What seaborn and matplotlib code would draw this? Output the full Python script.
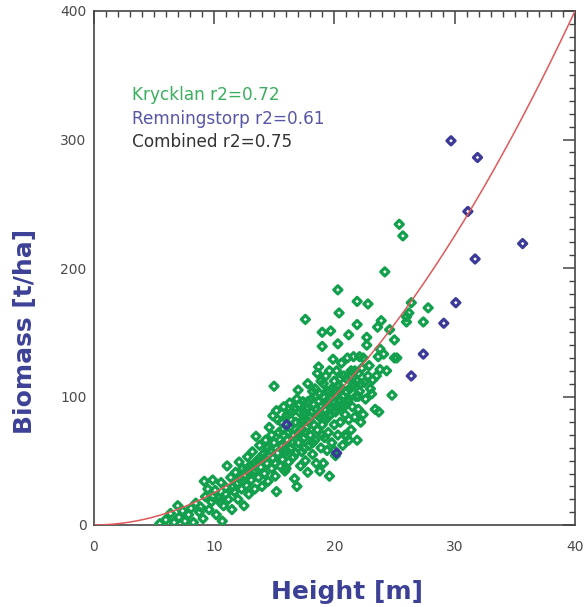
import numpy as np
import pandas as pd
import matplotlib
matplotlib.use("Agg")
import matplotlib.pyplot as plt
from matplotlib.ticker import MultipleLocator
import seaborn as sns

# ---- data ----
kry_height = [5.5, 6.0, 6.4, 6.7, 7.0, 7.1, 7.4, 7.6, 7.9, 8.1, 8.3, 8.5, 8.8, 8.9, 9.1, 9.2, 9.3, 9.5, 9.6, 9.8,
              9.9, 10.1, 10.2, 10.4, 10.6, 10.7, 10.8, 11.0, 11.1, 11.2, 11.4, 11.5, 11.7, 11.8, 11.9,
              12.0, 12.1, 12.2, 12.3, 12.4, 12.5, 12.6, 12.7, 12.8, 12.9, 13.0, 13.1, 13.2, 13.3, 13.4, 13.5,
              13.6, 13.7, 13.8, 13.9, 14.0, 14.1, 14.2, 14.3, 14.4, 14.5, 14.6, 14.7, 14.8, 14.9, 14.9,
              15.0, 15.0, 15.1, 15.2, 15.2, 15.3, 15.4, 15.5, 15.6, 15.6, 15.7, 15.8, 15.8, 15.9, 16.0, 16.0,
              16.1, 16.2, 16.3, 16.3, 16.4, 16.5, 16.6, 16.6, 16.7, 16.8, 16.9, 16.9,
              17.0, 17.0, 17.1, 17.2, 17.2, 17.3, 17.4, 17.4, 17.5, 17.6, 17.6, 17.7, 17.7, 17.8, 17.8, 17.9,
              18.0, 18.0, 18.1, 18.2, 18.2, 18.3, 18.4, 18.4, 18.5, 18.5, 18.6, 18.6, 18.7, 18.7, 18.8, 18.8,
              18.9, 18.9,
              19.0, 19.0, 19.0, 19.1, 19.1, 19.2, 19.2, 19.3, 19.3, 19.4, 19.4, 19.5, 19.5, 19.6, 19.6, 19.7,
              19.7, 19.8, 19.8, 19.9, 19.9, 20.0, 20.0, 20.1, 20.1, 20.2, 20.2, 20.3, 20.3, 20.3, 20.4, 20.4,
              20.5, 20.5, 20.6, 20.7, 20.7, 20.8, 20.9, 20.9,
              21.0, 21.0, 21.1, 21.1, 21.2, 21.2, 21.3, 21.4, 21.4, 21.5, 21.6, 21.6, 21.7, 21.8, 21.9, 21.9,
              21.9, 22.0, 22.0, 22.1, 22.1, 22.2, 22.3, 22.4, 22.4, 22.5, 22.6, 22.7, 22.7, 22.8, 22.8, 22.9,
              23.0,
              23.1, 23.2, 23.4, 23.5, 23.6, 23.65, 23.7, 23.8, 23.8, 23.9, 24.1, 24.2, 24.35, 24.6, 24.8, 25.0,
              25.0, 25.2, 25.4, 25.7, 26.0, 26.0, 26.2, 26.4, 27.4, 27.8,
              14.2, 14.5, 14.8, 15.1, 15.3, 15.5, 15.7, 15.9, 16.1, 16.2, 16.4, 16.5, 16.7, 16.8, 17.0, 17.1,
              17.3, 17.5, 17.6, 17.8, 17.9, 18.1, 18.3, 18.4, 18.6, 18.8, 18.9, 19.1, 19.2, 19.4, 19.6, 19.7,
              19.9, 20.0, 20.2, 20.4, 20.5, 20.6, 20.8, 21.0, 21.2, 21.3, 21.5, 21.7, 21.9, 22.0, 22.2, 13.0,
              13.4, 13.8, 12.4, 12.8, 11.6, 11.0, 10.5, 9.9, 16.0, 17.5, 18.2, 19.0, 20.0, 21.2]
kry_biomass = [1, 4, 9, 2, 15, 6, 11, 3, 8, 13, 2, 17, 10, 14, 5, 34, 22, 28, 12, 18,
               35, 27, 8, 21, 33, 3, 15, 29, 46, 20, 37, 12, 26, 41, 32,
               20, 49, 36, 28, 44, 15, 39, 31, 53, 24, 46, 35, 57, 41, 28, 69,
               50, 37, 62, 45, 30, 55, 40, 66, 48, 34, 76, 58, 44, 85, 52,
               108, 64, 38, 89, 26, 56, 72, 46, 80, 62, 51, 92, 70, 42, 58, 84,
               66, 49, 76, 95, 60, 88, 53, 70, 36, 80, 30, 98,
               105, 64, 88, 46, 74, 57, 96, 82, 68, 160, 50, 90, 76, 41, 110, 62,
               84, 70, 98, 55, 104, 78, 106, 66, 90, 48, 118, 74, 123, 96, 84, 42,
               60, 112,
               150, 139, 78, 100, 48, 90, 68, 116, 82, 104, 58, 94, 72, 38, 120, 151,
               86, 106, 64, 129, 96, 78, 112, 88, 54, 120, 100, 141, 183, 70, 165, 108,
               92, 80, 126, 100, 62, 116, 86, 70,
               69, 114, 96, 130, 148, 82, 106, 120, 74, 92, 131, 110, 84, 100, 156, 174,
               66, 118, 90, 131, 104, 80, 122, 130, 86, 111, 98, 146, 140, 172, 116, 124,
               106,
               102, 113, 90, 116, 154, 131, 88, 121, 137, 159, 133, 197, 120, 152, 101, 144,
               130, 130, 234, 225, 162, 158, 165, 173, 158, 169,
               52, 60, 70, 48, 82, 66, 74, 56, 86, 72, 82, 64, 90, 56, 72, 94,
               80, 88, 72, 96, 80, 88, 94, 100, 86, 102, 92, 110, 84, 96, 104, 98,
               88, 104, 92, 98, 114, 106, 92, 104, 98, 116, 108, 120, 112, 100, 110, 40,
               48, 52, 34, 44, 30, 24, 18, 22, 44, 60, 64, 70, 58, 66]

rem_height = [16.05, 20.2, 26.4, 27.4, 29.1, 30.1, 29.7, 31.9, 31.1, 35.65, 31.7]
rem_biomass = [78, 56, 116, 133, 157, 173, 299, 286, 244, 219, 207]

# combined power-law fit: biomass = a * height ** b
fit_a = 0.25
fit_b = 2.0
fit_height = np.linspace(0, 40, 200)
fit_biomass = fit_a * fit_height ** fit_b

x_ticks = [0, 10, 20, 30, 40]
y_ticks = [0, 100, 200, 300, 400]
legend_lines = ["Krycklan r2=0.72", "Remningstorp r2=0.61", "Combined r2=0.75"]

# ---- plotting ----
sns.set_theme(style="white")
plt.rcParams['font.family'] = ['DejaVu Sans']

GREEN = "#12a04c"
BLUE = "#3b3a98"
RED = "#e2585a"

fig = plt.figure(figsize=(5.87, 6.07), dpi=100)
ax = fig.add_axes([93.5 / 587, (607 - 525) / 607, (575 - 93.5) / 587, (525 - 11) / 607])

kry = pd.DataFrame({"Height": kry_height, "Biomass": kry_biomass})
rem = pd.DataFrame({"Height": rem_height, "Biomass": rem_biomass})
fit = pd.DataFrame({"Height": fit_height, "Biomass": fit_biomass})

sns.scatterplot(data=kry, x="Height", y="Biomass", ax=ax, marker="D", s=17,
                facecolor="none", edgecolor=GREEN, linewidth=2.3, zorder=3)
sns.scatterplot(data=rem, x="Height", y="Biomass", ax=ax, marker="D", s=17,
                facecolor="none", edgecolor=BLUE, linewidth=2.3, zorder=4)
sns.lineplot(data=fit, x="Height", y="Biomass", ax=ax, color=RED, linewidth=1.1, zorder=5)

ax.set_xlim(0, 40)
ax.set_ylim(0, 400)
ax.set_xticks(x_ticks)
ax.set_yticks(y_ticks)
ax.set_xticklabels([str(t) for t in x_ticks])
ax.set_yticklabels([str(t) for t in y_ticks])
ax.xaxis.set_minor_locator(MultipleLocator(1))
ax.yaxis.set_minor_locator(MultipleLocator(10))
ax.tick_params(which="both", direction="in", top=True, right=True, colors="#444444",
               labelcolor="#4a4a4a", labelsize=10)
ax.tick_params(which="major", length=9, width=1.1)
ax.tick_params(which="minor", length=4.5, width=1.0)
ax.tick_params(axis="x", which="major", pad=11)
ax.tick_params(axis="y", which="major", pad=5)
for sp in ax.spines.values():
    sp.set_color("#444444")
    sp.set_linewidth(1.2)
ax.set_xlabel("")
ax.set_ylabel("")

fig.text(347 / 587, 1 - 592 / 607, "Height [m]", ha="center", va="center",
         fontsize=18, fontweight="bold", color="#3d4196")
fig.text(25 / 587, 1 - 331 / 607, "Biomass [t/ha]", ha="center", va="center", rotation=90,
         fontsize=18, fontweight="bold", color="#3d4196")

legend_colors = ["#3aae5e", "#5656a6", "#333333"]
legend_y = [95, 119, 142]
for txt, col, py in zip(legend_lines, legend_colors, legend_y):
    fig.text(132 / 587, 1 - py / 607, txt, ha="left", va="center", fontsize=12.2, color=col)

fig.savefig("out.png", dpi=100)
